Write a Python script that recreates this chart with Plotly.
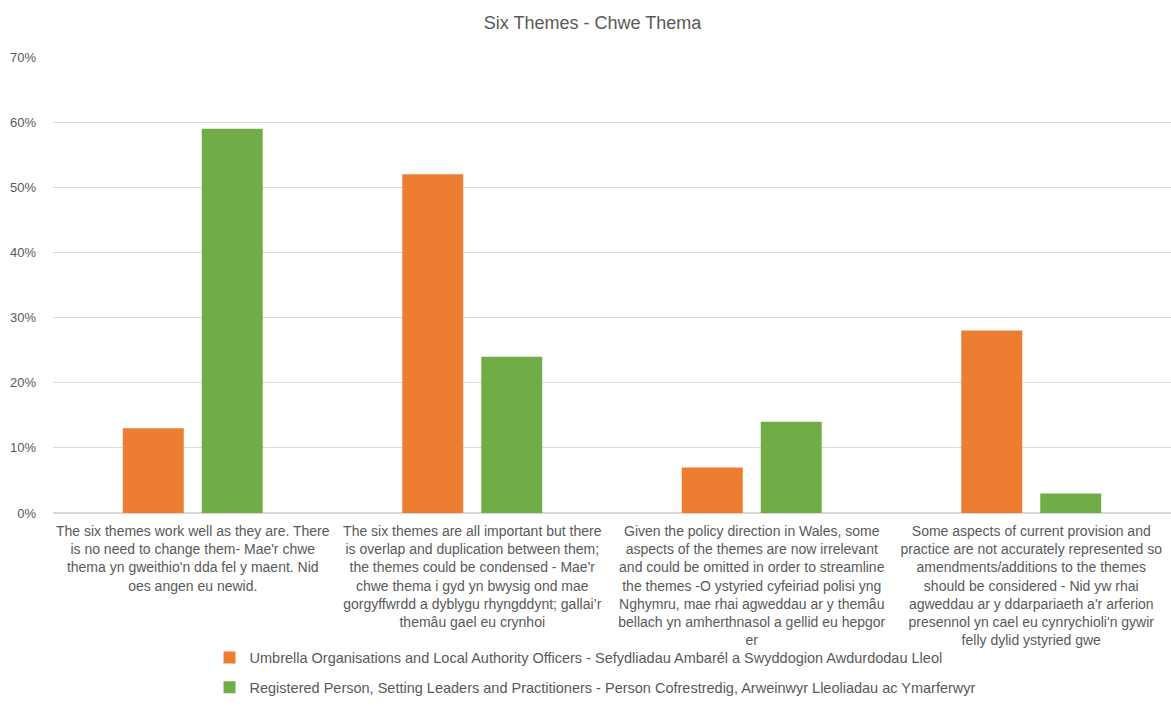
import plotly.graph_objects as go

categories = [
    ["The six themes work well as they are. There", "is no need to change them- Mae'r chwe",
     "thema yn gweithio'n dda fel y maent. Nid", "oes angen eu newid."],
    ["The six themes are all important but there", "is overlap and duplication between them;",
     "the themes could be condensed - Mae'r", "chwe thema i gyd yn bwysig ond mae",
     "gorgyffwrdd a dyblygu rhyngddynt; gallai’r", "themâu gael eu crynhoi"],
    ["Given the policy direction in Wales, some", "aspects of the themes are now irrelevant",
     "and could be omitted in order to streamline", "the themes -O ystyried cyfeiriad polisi yng",
     "Nghymru, mae rhai agweddau ar y themâu", "bellach yn amherthnasol a gellid eu hepgor", "er"],
    ["Some aspects of current provision and", "practice are not accurately represented so",
     "amendments/additions to the themes", "should be considered - Nid yw rhai",
     "agweddau ar y ddarpariaeth a'r arferion", "presennol yn cael eu cynrychioli'n gywir",
     "felly dylid ystyried gwe"],
]
cat_labels = ["<br>".join(c) for c in categories]

series_names = [
    "Umbrella Organisations and Local Authority Officers - Sefydliadau Ambarél a Swyddogion Awdurdodau Lleol",
    "Registered Person, Setting Leaders and Practitioners - Person Cofrestredig, Arweinwyr Lleoliadau ac Ymarferwyr",
]
umbrella = [0.13, 0.52, 0.07, 0.28]
registered = [0.59, 0.24, 0.14, 0.03]
colors = ["#ED7D31", "#70AD47"]

FONT = "Liberation Sans"
GREY = "#595959"

fig = go.Figure()
for i, (name, vals) in enumerate(zip(series_names, [umbrella, registered])):
    fig.add_trace(go.Bar(x=cat_labels, y=vals, name=name, marker_color=colors[i],
                         marker_line_width=0, legendgroup=f"g{i}"))

fig.update_layout(
    width=1171, height=720,
    paper_bgcolor="white", plot_bgcolor="white",
    margin=dict(l=53, r=0, t=57, b=207, autoexpand=False),
    title=dict(text="Six Themes - Chwe Thema", x=0.506, xanchor="center", y=0.969, yanchor="middle",
               font=dict(family=FONT, size=18, color=GREY)),
    barmode="group", bargap=0.435, bargroupgap=0.228,
    font=dict(family=FONT, size=14, color=GREY),
    legend=dict(orientation="v", x=0.14, xanchor="left", y=-0.282, yanchor="top",
                bgcolor="rgba(0,0,0,0)",
                tracegroupgap=8, font=dict(family=FONT, size=14.5, color=GREY)),
    xaxis=dict(showline=False, ticks="", tickangle=0, showgrid=False, automargin=False,
               ticklabelstandoff=8,
               tickfont=dict(family=FONT, size=14, color=GREY)),
    yaxis=dict(range=[0, 0.7], dtick=0.1, tickformat=".0%", showgrid=True, gridcolor="#D9D9D9",
               gridwidth=1, zeroline=True, zerolinecolor="#D9D9D9", showline=False, ticks="",
               automargin=False, ticklabelstandoff=16,
               tickfont=dict(family=FONT, size=13, color=GREY)),
)

fig.write_html("out.html", post_script="document.body.style.margin='0px';",
               config={"displayModeBar": False})
